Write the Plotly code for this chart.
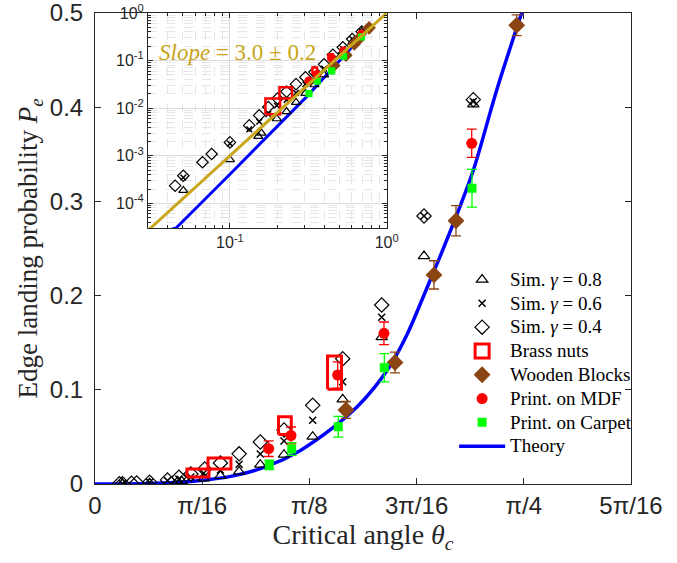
import math
import plotly.graph_objects as go

PI = math.pi

# ---------------- data ----------------
sim08_theta = [0.0504, 0.1, 0.1515, 0.1588, 0.199, 0.2297, 0.264, 0.3028, 0.3462, 0.3987, 0.4537, 0.5251, 0.6026, 0.6929]
sim08_p = [1.87e-4, 8.3e-4, 2.56e-3, 3.0e-3, 6.0e-3, 8.5e-3, 0.0132, 0.0205, 0.0311, 0.0502, 0.0899, 0.156, 0.242, 0.403]

sim06_theta = [0.0504, 0.1, 0.1328, 0.1537, 0.1755, 0.199, 0.2297, 0.264, 0.3028, 0.3462, 0.3987, 0.4537, 0.5251, 0.6026, 0.6929]
sim06_p = [3.5e-4, 1.8e-3, 3.6e-3, 5.2e-3, 7.5e-3, 0.0114, 0.0149, 0.0209, 0.0318, 0.0456, 0.0676, 0.1086, 0.177, 0.2845, 0.406]

sim04_theta = [0.0447, 0.0504, 0.0668, 0.0764, 0.1, 0.1328, 0.1537, 0.1755, 0.2009, 0.2297, 0.264, 0.3028, 0.3462, 0.3987, 0.4537, 0.5251, 0.6026, 0.6929]
sim04_p = [2.35e-4, 3.8e-4, 7.3e-4, 1.09e-3, 1.91e-3, 4.35e-3, 7.06e-3, 0.0106, 0.016, 0.0223, 0.032, 0.0446, 0.0573, 0.0835, 0.133, 0.190, 0.2845, 0.408]

brass_theta = [0.1886, 0.228, 0.3478, 0.4387]
brass_dtheta = [0.0202, 0.021, 0.0117, 0.0128]
brass_p = [0.0117, 0.0218, 0.062, 0.1182]
brass_dp = [0.0042, 0.0058, 0.0095, 0.0177]

wood_theta = [0.4597, 0.5495, 0.6209, 0.6612, 0.7724]
wood_p = [0.0786, 0.129, 0.222, 0.2795, 0.487]
wood_err = [0.009, 0.011, 0.015, 0.016, 0.011]

mdf_theta = [0.3181, 0.359, 0.4445, 0.5293, 0.690]
mdf_p = [0.0375, 0.0515, 0.1157, 0.160, 0.3617]
mdf_err = [0.0083, 0.009, 0.014, 0.012, 0.015]

carpet_theta = [0.3192, 0.3603, 0.4456, 0.5299, 0.6905]
carpet_p = [0.0202, 0.0372, 0.0608, 0.1235, 0.314]
carpet_err = [0.005, 0.0068, 0.011, 0.015, 0.020]

theory_theta = [0.0, 0.0453, 0.1, 0.18, 0.2533, 0.3145, 0.3755, 0.4365, 0.4793, 0.5097, 0.5403, 0.5709, 0.6013, 0.6319, 0.6625, 0.6929, 0.7357, 0.7815]
theory_p = [0.0, 3.04e-5, 4.1e-4, 2.9e-3, 0.0086, 0.0186, 0.0354, 0.060, 0.0815, 0.101, 0.1253, 0.158, 0.1988, 0.2413, 0.2856, 0.333, 0.418, 0.500]

fit_theta = [0.03, 1.0]
fit_p = [2.7e-5, 1.0]

x_tick_vals = [0, PI / 16, PI / 8, 3 * PI / 16, PI / 4, 5 * PI / 16]
x_tick_text = ["0", "π/16", "π/8", "3π/16", "π/4", "5π/16"]
y_tick_vals = [0, 0.1, 0.2, 0.3, 0.4, 0.5]
y_tick_text = ["0", "0.1", "0.2", "0.3", "0.4", "0.5"]
inset_x_ticks = [0.1, 1.0]
inset_x_text = ["10<sup>-1</sup>", "10<sup>0</sup>"]
inset_y_ticks = [1e-4, 1e-3, 1e-2, 1e-1, 1.0]
inset_y_text = ["10<sup>-4</sup>", "10<sup>-3</sup>", "10<sup>-2</sup>", "10<sup>-1</sup>", "10<sup>0</sup>"]

# ---------------- styles ----------------
AX = "#262626"
BROWN = "#8B4513"
RED = "#FF0000"
GREEN = "#00FF00"
BLUE = "#0000FF"
GOLD = "#C9A51A"
SERIF = "Liberation Serif"
SANS = "Liberation Sans"


def leg_name(s):
    return '<span style="font-size:19px">' + s + "</span>"


# rectangles for brass nuts built from centre +/- half width
rect_x, rect_y = [], []
for t, dt, p, dp in zip(brass_theta, brass_dtheta, brass_p, brass_dp):
    rect_x += [t - dt, t + dt, t + dt, t - dt, t - dt, None]
    rect_y += [p - dp, p - dp, p + dp, p + dp, p - dp, None]

fig = go.Figure()


def add_set(xa, ya, inset):
    leg = not inset
    s = 0.8 if inset else 1.0
    fig.add_trace(go.Scatter(x=theory_theta, y=theory_p, mode="lines", name=leg_name("Theory"),
                             line=dict(color=BLUE, width=3.5 if not inset else 3,
                                       shape="linear" if inset else "spline"),
                             showlegend=leg, legendrank=8, xaxis=xa, yaxis=ya))
    fig.add_trace(go.Scatter(x=sim08_theta, y=sim08_p, mode="markers", name=leg_name("Sim. <i>γ</i> = 0.8"),
                             marker=dict(symbol="triangle-up-open", size=10 * s, color="black", line=dict(width=1.2)),
                             showlegend=leg, legendrank=1, xaxis=xa, yaxis=ya))
    fig.add_trace(go.Scatter(x=sim06_theta, y=sim06_p, mode="markers", name=leg_name("Sim. <i>γ</i> = 0.6"),
                             marker=dict(symbol="x-thin-open", size=7 * s, color="black", line=dict(width=1.5)),
                             showlegend=leg, legendrank=2, xaxis=xa, yaxis=ya))
    fig.add_trace(go.Scatter(x=sim04_theta, y=sim04_p, mode="markers", name=leg_name("Sim. <i>γ</i> = 0.4"),
                             marker=dict(symbol="diamond-open", size=11 * s, color="black", line=dict(width=1.2)),
                             showlegend=leg, legendrank=3, xaxis=xa, yaxis=ya))
    fig.add_trace(go.Scatter(x=rect_x, y=rect_y, mode="lines", name="Brass nuts",
                             line=dict(color=RED, width=3 if not inset else 2.5),
                             showlegend=False, xaxis=xa, yaxis=ya))
    if leg:
        fig.add_trace(go.Scatter(x=[None], y=[None], mode="markers", name=leg_name("Brass nuts"),
                                 marker=dict(symbol="square-open", size=14, color=RED, line=dict(width=3)),
                                 showlegend=True, legendrank=4, xaxis=xa, yaxis=ya))
    fig.add_trace(go.Scatter(x=wood_theta, y=wood_p, mode="markers", name=leg_name("Wooden Blocks"),
                             marker=dict(symbol="diamond", size=13 * s, color=BROWN),
                             error_y=dict(type="data", array=wood_err, color=BROWN, thickness=1.3, width=5, visible=not inset),
                             showlegend=leg, legendrank=5, xaxis=xa, yaxis=ya))
    fig.add_trace(go.Scatter(x=mdf_theta, y=mdf_p, mode="markers", name=leg_name("Print. on MDF"),
                             marker=dict(symbol="circle", size=11 * s, color=RED),
                             error_y=dict(type="data", array=mdf_err, color=RED, thickness=1.3, width=5, visible=not inset),
                             showlegend=leg, legendrank=6, xaxis=xa, yaxis=ya))
    fig.add_trace(go.Scatter(x=carpet_theta, y=carpet_p, mode="markers", name=leg_name("Print. on Carpet"),
                             marker=dict(symbol="square", size=9 * s, color=GREEN),
                             error_y=dict(type="data", array=carpet_err, color=GREEN, thickness=1.3, width=5, visible=not inset),
                             showlegend=leg, legendrank=7, xaxis=xa, yaxis=ya))


add_set("x", "y", False)
add_set("x2", "y2", True)
fig.add_trace(go.Scatter(x=fit_theta, y=fit_p, mode="lines", line=dict(color=GOLD, width=3),
                         showlegend=False, xaxis="x2", yaxis="y2"))

minor_x = [m * 10 ** d for d in (-2, -1) for m in range(2, 10)]
minor_y = [m * 10 ** d for d in (-5, -4, -3, -2, -1) for m in range(2, 10)]

fig.update_layout(
    width=677, height=563,
    margin=dict(l=95, r=46, t=13, b=79, autoexpand=False),
    paper_bgcolor="white", plot_bgcolor="white",
    xaxis=dict(domain=[0, 1], range=[0, 5 * PI / 16], tickmode="array", tickvals=x_tick_vals, ticktext=x_tick_text,
               ticks="inside", ticklen=6, tickcolor=AX, showline=True, linecolor=AX, linewidth=1, mirror="ticks",
               showgrid=False, zeroline=False, tickfont=dict(family=SANS, size=24, color=AX),
               ticklabeloverflow="allow",
               title=dict(text="Critical angle <i>θ<sub>c</sub></i>", font=dict(family=SERIF, size=28, color=AX), standoff=4)),
    yaxis=dict(domain=[0, 1], range=[0, 0.5], tickmode="array", tickvals=y_tick_vals, ticktext=y_tick_text,
               ticks="inside", ticklen=6, tickcolor=AX, showline=True, linecolor=AX, linewidth=1, mirror="ticks",
               showgrid=False, zeroline=False, tickfont=dict(family=SANS, size=24, color=AX), ticklabelstandoff=6,
               ticklabeloverflow="allow",
               title=dict(text="Edge landing probability <i>P<sub>e</sub></i>", font=dict(family=SERIF, size=27, color=AX), standoff=4)),
    xaxis2=dict(domain=[0.0989, 0.5442], anchor="y2", type="log", range=[math.log10(0.03), 0],
                tickmode="array", tickvals=inset_x_ticks, ticktext=inset_x_text,
                ticks="inside", ticklen=5, tickcolor=AX, showline=True, linecolor=AX, linewidth=1, mirror="ticks",
                showgrid=True, gridcolor="#dcdcdc", gridwidth=1, zeroline=False, ticklabeloverflow="allow",
                minor=dict(tickmode="array", tickvals=minor_x, ticks="inside", ticklen=3, tickcolor=AX,
                           showgrid=True, gridcolor="#e6e6e6", griddash="dash"),
                tickfont=dict(family=SANS, size=16, color=AX)),
    yaxis2=dict(domain=[0.543, 1.0], anchor="x2", type="log", range=[math.log10(3.0e-5), 0],
                tickmode="array", tickvals=inset_y_ticks, ticktext=inset_y_text,
                ticks="inside", ticklen=5, tickcolor=AX, showline=True, linecolor=AX, linewidth=1, mirror="ticks",
                showgrid=True, gridcolor="#dcdcdc", gridwidth=1, zeroline=False, ticklabeloverflow="allow",
                minor=dict(tickmode="array", tickvals=minor_y, ticks="inside", ticklen=3, tickcolor=AX,
                           showgrid=True, gridcolor="#e6e6e6", griddash="dash"),
                tickfont=dict(family=SANS, size=16, color=AX)),
    legend=dict(x=0.67, y=0.47, xanchor="left", yanchor="top", bgcolor="rgba(255,255,255,0)",
                font=dict(family=SERIF, size=16, color="black"), itemwidth=46, traceorder="normal"),
    annotations=[dict(text="<i>Slope</i> = 3.0 ± 0.2", x=0.266, y=0.917, xref="paper", yref="paper",
                      xanchor="center", yanchor="middle",
                      showarrow=False, font=dict(family=SERIF, size=23, color=GOLD))],
)

fig.write_html("out.html", config={"displayModeBar": False},
               post_script="document.body.style.margin='0px';")
